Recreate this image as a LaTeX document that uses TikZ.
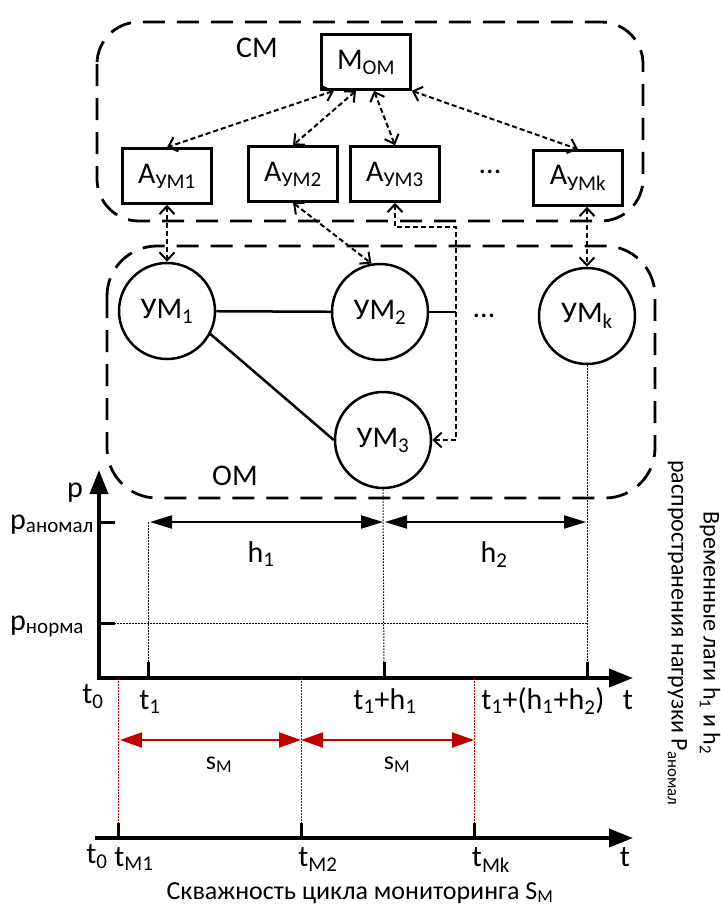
\documentclass[tikz,border=0pt]{standalone}
\usepackage{fontspec}
\setmainfont{Carlito}
\usetikzlibrary{arrows.meta}
\definecolor{mred}{RGB}{192,0,0}
\newcommand\bigf{\fontsize{30}{34}\selectfont}
\newcommand\midf{\fontsize{26}{30}\selectfont}
\newcommand\smallf{\fontsize{24}{32}\selectfont}
\begin{document}
\begin{tikzpicture}[x=1pt,y=-1pt,
  grp/.style={draw, line width=2.8pt, dash pattern=on 22pt off 12pt},
  boxn/.style={draw, line width=2.5pt, minimum width=89pt, minimum height=55pt, inner sep=0pt, font=\bigf},
  um/.style={draw, circle, line width=2.5pt, minimum size=96pt, inner sep=0pt, font=\bigf},
  conn/.style={line width=2pt, dash pattern=on 5pt off 3pt,
     {Straight Barb[length=8pt,width=15pt]}-{Straight Barb[length=8pt,width=15pt]}},
  link/.style={line width=2.5pt},
  axisl/.style={line width=3.5pt, -{Triangle[length=24pt,width=18pt]}},
  tickl/.style={line width=3pt},
  harr/.style={line width=2pt, {Triangle[length=22pt,width=13pt]}-{Triangle[length=22pt,width=13pt]}},
  guide/.style={line width=1pt, dash pattern=on 1.5pt off 1.5pt},
  rguide/.style={mred, line width=1pt, dash pattern=on 1.5pt off 1.5pt},
  rarr/.style={mred, line width=2pt, {Triangle[length=22pt,width=15pt]}-{Triangle[length=22pt,width=15pt]}},
  lbl/.style={font=\bigf, inner sep=0pt},
  slbl/.style={font=\midf, inner sep=0pt}
]
\useasboundingbox (0,0) rectangle (720,907);

% group boxes
\draw[grp, rounded corners=42pt] (97,22) rectangle (643,221);
\draw[grp, rounded corners=50pt] (107,246) rectangle (655,498);
\node[lbl, anchor=base] (cm) at (257,57) {СМ};
\node[lbl, anchor=base] (om) at (235,485) {ОМ};

% monitoring nodes
\node[boxn] (mom) at (366,62) {М\textsubscript{ОМ}};
\node[boxn] (a1) at (167,176) {А\textsubscript{УМ1}};
\node[boxn] (a2) at (293,174) {А\textsubscript{УМ2}};
\node[boxn] (a3) at (395,174) {А\textsubscript{УМ3}};
\node[lbl] (dots1) at (490,172) {...};
\node[boxn] (ak) at (578,178) {А\textsubscript{УМk}};

% object nodes
\node[um] (um1) at (167,311) {УМ\textsubscript{1}};
\node[um] (um2) at (380,312) {УМ\textsubscript{2}};
\node[um] (umk) at (587,316) {УМ\textsubscript{k}};
\node[um] (um3) at (383,440) {УМ\textsubscript{3}};
\node[lbl] (dots2) at (484,316) {...};

% connectors
\draw[conn] ([xshift=-32pt]mom.south) -- (a1.north);
\draw[conn] ([xshift=-10pt]mom.south) -- (a2.north);
\draw[conn] ([xshift=8pt]mom.south) -- (a3.north);
\draw[conn] (mom.south east) -- (ak.north);
\draw[conn] (a1.south) -- (um1.north);
\draw[conn] (a2.south) -- (um2.100);
\coordinate (c1) at (456,227);
\draw[conn] (a3.south) -- (a3.south |- c1) -- (c1) -- (c1 |- um3.east) -- (um3.east);
\draw[conn] (umk.north |- ak.south) -- (umk.north);

\coordinate (c2) at (456,312);
\draw[link] (um1) -- (um2);
\draw[link] (um2.east) -- (c2);
\draw[link] (um1.-28) -- (um3.west);

% upper chart
\coordinate (o) at (99,678);
\coordinate (ptop) at (99,470);
\coordinate (tend) at (633,678);
\coordinate (tbeg) at (97,678);
\coordinate (pa) at (99,522);
\coordinate (pn) at (99,623);
\coordinate (x1) at (148,678);
\coordinate (x2) at (384,678);
\coordinate (x3) at (587,678);

\draw[guide] (x1 |- pa) -- (x1);
\draw[guide] (um3.south) -- (x2);
\draw[guide] (umk.south) -- (x3);
\draw[guide] (pn) -- (x3 |- pn);
\draw[harr] ([xshift=2pt]x1 |- pa) -- ([xshift=-1pt]x2 |- pa);
\draw[harr] ([xshift=1pt]x2 |- pa) -- ([xshift=-1pt]x3 |- pa);
\draw[axisl] (o) -- (ptop);
\draw[axisl] (tbeg) -- (tend);
\draw[tickl] (pa) -- ++(16,0);
\draw[tickl] (pn) -- ++(16,0);
\draw[tickl] (x1) -- ++(0,-16);
\draw[tickl] (x2) -- ++(0,-16);
\draw[tickl] (x3) -- ++(0,-16);

\node[lbl, anchor=base] (plbl) at (75,497) {p};
\node[lbl, anchor=base west] (palbl) at (10,529) {p\textsubscript{аномал}};
\node[lbl, anchor=base west] (pnlbl) at (10,630) {p\textsubscript{норма}};
\node[lbl, anchor=base] (h1) at (261,562) {h\textsubscript{1}};
\node[lbl, anchor=base] (h2) at (494,562) {h\textsubscript{2}};
\node[lbl, anchor=base] (t0a) at (93,703) {t\textsubscript{0}};
\node[lbl, anchor=base] (t1) at (150,709) {t\textsubscript{1}};
\node[lbl, anchor=base] (t1h1) at (385,709) {t\textsubscript{1}+h\textsubscript{1}};
\node[lbl, anchor=base] (t1h12) at (543,709) {t\textsubscript{1}+(h\textsubscript{1}+h\textsubscript{2})};
\node[lbl, anchor=base] (ta) at (628,709) {t};

% monitoring cycle
\coordinate (m1) at (118,838);
\coordinate (m2) at (301,838);
\coordinate (m3) at (474,838);
\coordinate (ra) at (0,740);
\draw[rguide] (m1 |- o) -- (m1);
\draw[rguide] (m2 |- o) -- (m2);
\draw[rguide] (m3 |- o) -- (m3);
\draw[rarr] ([xshift=2pt]m1 |- ra) -- (m2 |- ra);
\draw[rarr] (m2 |- ra) -- (m3 |- ra);
\node[slbl, anchor=base] (s1) at (219,769) {s\textsubscript{M}};
\node[slbl, anchor=base] (s2) at (397,769) {s\textsubscript{M}};

\coordinate (bbeg) at (95,838);
\coordinate (bend) at (633,838);
\draw[axisl] (bbeg) -- (bend);
\draw[tickl] (m1) -- ++(0,-15);
\draw[tickl] (m2) -- ++(0,-15);
\draw[tickl] (m3) -- ++(0,-15);
\node[lbl, anchor=base] (t0b) at (97,863) {t\textsubscript{0}};
\node[lbl, anchor=base] (tm1) at (134,866) {t\textsubscript{M1}};
\node[lbl, anchor=base] (tm2) at (318,866) {t\textsubscript{M2}};
\node[lbl, anchor=base] (tmk) at (491,866) {t\textsubscript{Mk}};
\node[lbl, anchor=base] (tb) at (625,866) {t};
\node[slbl, anchor=base] (cap) at (360,899) {Скважность цикла мониторинга S\textsubscript{M}};

% rotated side text
\node[font=\smallf, rotate=-90, align=center, inner sep=0pt] (side) at (694,633)
  {Временные лаги h\textsubscript{1} и h\textsubscript{2}\\распространения нагрузки P\textsubscript{аномал}};
\end{tikzpicture}
\end{document}
